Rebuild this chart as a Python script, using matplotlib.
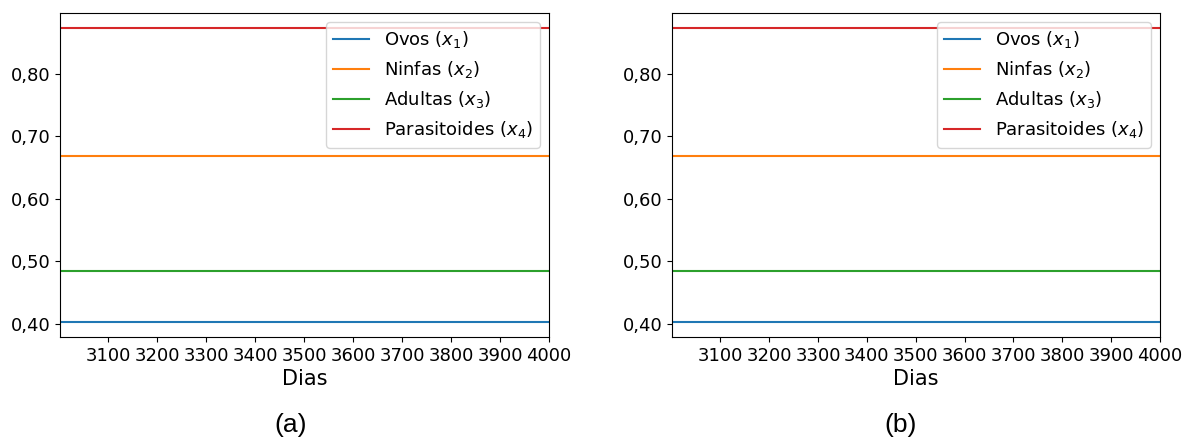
import matplotlib
matplotlib.use("Agg")
import matplotlib.pyplot as plt
from matplotlib.ticker import FuncFormatter

# end points of the simulation window (days)
dias = [3001, 4000]

# equilibrium values of each population (same in both panels)
ovos = [0.402, 0.402]
ninfas = [0.668, 0.668]
adultas = [0.484, 0.484]
parasitoides = [0.874, 0.874]

labels = ['Ovos ($x_1$)', 'Ninfas ($x_2$)', 'Adultas ($x_3$)', 'Parasitoides ($x_4$)']
captions = ['(a)', '(b)']

fig = plt.figure(figsize=(11.91, 4.40), dpi=100)
axes_pos = [[60/1191, 1-337/440, 489/1191, 324/440],
            [672/1191, 1-337/440, 488/1191, 324/440]]
caption_x = [291/1191, 901/1191]

comma = FuncFormatter(lambda v, p: ('%.2f' % v).replace('.', ','))

for i in range(2):
    ax = fig.add_axes(axes_pos[i])
    ax.plot(dias, ovos, label=labels[0])
    ax.plot(dias, ninfas, label=labels[1])
    ax.plot(dias, adultas, label=labels[2])
    ax.plot(dias, parasitoides, label=labels[3])
    ax.margins(x=0)
    ax.set_xticks(range(3100, 4001, 100))
    ax.yaxis.set_major_formatter(comma)
    ax.tick_params(labelsize=13)
    ax.set_xlabel('Dias', fontsize=15, labelpad=3)
    ax.legend(loc='upper right', fontsize=13)
    fig.text(caption_x[i], 1-425/440, captions[i], ha='center', va='center',
             family='Liberation Sans', fontsize=19)

fig.savefig('out.png', dpi=100)
